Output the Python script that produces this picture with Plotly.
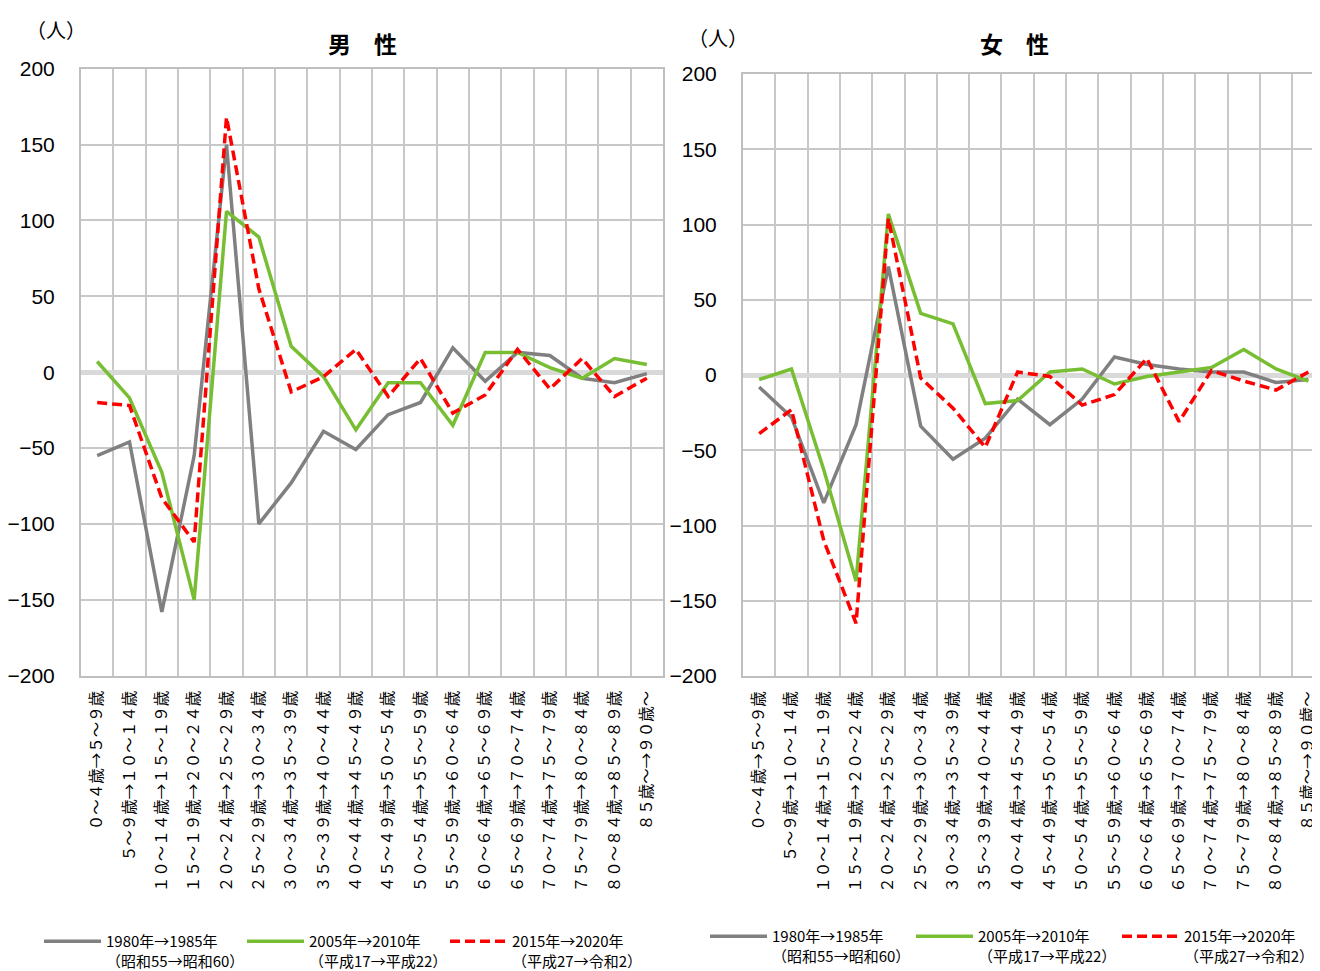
import plotly.graph_objects as go

# ---- data ----
categories = [
    "０～４歳→５～９歳", "５～９歳→１０～１４歳", "１０～１４歳→１５～１９歳",
    "１５～１９歳→２０～２４歳", "２０～２４歳→２５～２９歳", "２５～２９歳→３０～３４歳",
    "３０～３４歳→３５～３９歳", "３５～３９歳→４０～４４歳", "４０～４４歳→４５～４９歳",
    "４５～４９歳→５０～５４歳", "５０～５４歳→５５～５９歳", "５５～５９歳→６０～６４歳",
    "６０～６４歳→６５～６９歳", "６５～６９歳→７０～７４歳", "７０～７４歳→７５～７９歳",
    "７５～７９歳→８０～８４歳", "８０～８４歳→８５～８９歳", "８５歳～→９０歳～",
]
series_names = [
    "1980年→1985年<br>（昭和55→昭和60）",
    "2005年→2010年<br>（平成17→平成22）",
    "2015年→2020年<br>（平成27→令和2）",
]
male_1980 = [-55, -46, -158, -55, 150, -100, -73, -39, -51, -28, -20, 16, -6, 13, 11, -4, -7, -1]
male_2005 = [7, -17, -66, -150, 106, 89, 17, -3, -38, -7, -7, -35, 13, 13, 3, -4, 9, 5]
male_2015 = [-20, -22, -83, -112, 168, 55, -13, -3, 15, -16, 9, -27, -15, 15, -11, 9, -16, -4]
female_1980 = [-8, -28, -85, -33, 72, -34, -56, -42, -16, -33, -16, 12, 7, 4, 2, 2, -5, -3]
female_2005 = [-3, 4, -63, -137, 107, 41, 34, -19, -17, 2, 4, -6, -1, 2, 5, 17, 4, -4]
female_2015 = [-39, -23, -110, -165, 104, -2, -22, -48, 2, -1, -20, -13, 11, -31, 3, -4, -10, 2]
y_ticks = [-200, -150, -100, -50, 0, 50, 100, 150, 200]
titles = ["男　性", "女　性"]
unit_label = "（人）"

# ---- styles / layout helpers ----
W, H = 1320, 971
OFF = 8  # page body margin offset


def px(x):
    return (x - OFF) / W


def py(y):
    return 1 - (y - OFF) / H


colors = ["#808080", "#78BE32", "#FF0000"]
dashes = ["solid", "solid", "10px,5px"]
CJK = "Noto Sans CJK JP"

fig = go.Figure()
male = [male_1980, male_2005, male_2015]
female = [female_1980, female_2005, female_2015]
for i in range(3):
    fig.add_trace(go.Scatter(
        x=categories, y=male[i], name=series_names[i], mode="lines",
        line=dict(color=colors[i], width=3.5, dash=dashes[i]),
        xaxis="x", yaxis="y", legend="legend"))
for i in range(3):
    fig.add_trace(go.Scatter(
        x=categories, y=female[i], name=series_names[i], mode="lines",
        line=dict(color=colors[i], width=3.5, dash=dashes[i]),
        xaxis="x2", yaxis="y2", legend="legend2"))

xcommon = dict(
    type="category", tickson="boundaries", showgrid=True,
    gridcolor="#C8C8C8", gridwidth=2, tickangle=-90,
    tickfont=dict(family=CJK, size=15.5, color="black"),
    showline=True, mirror=True, linecolor="#BFBFBF", linewidth=2,
    ticks="", ticklabelstandoff=7, fixedrange=True, range=[-0.5, 17.5],
)
ycommon = dict(
    range=[-200, 200], tickvals=y_ticks, showgrid=True,
    gridcolor="#C8C8C8", gridwidth=2,
    zeroline=True, zerolinecolor="#D9D9D9", zerolinewidth=5,
    showline=True, mirror=True, linecolor="#BFBFBF", linewidth=2,
    tickfont=dict(family="Liberation Sans", size=21, color="black"),
    ticks="", ticklabelstandoff=20, fixedrange=True,
)
legcommon = dict(
    orientation="h", xanchor="left", yanchor="top",
    font=dict(family=CJK, size=15, color="black"), itemwidth=57,
    entrywidthmode="pixels", valign="top",
    bgcolor="rgba(0,0,0,0)", tracegroupgap=0,
)

fig.update_layout(
    width=W, height=H,
    margin=dict(l=0, r=0, t=0, b=0, autoexpand=False),
    paper_bgcolor="white", plot_bgcolor="white",
    xaxis=dict(domain=[px(81), px(663)], anchor="y", **xcommon),
    yaxis=dict(domain=[py(675.6), py(68.7)], anchor="x", **ycommon),
    xaxis2=dict(domain=[px(743), px(1324.5)], anchor="y2", **xcommon),
    yaxis2=dict(domain=[py(676), py(74)], anchor="x2", **ycommon),
    legend=dict(x=px(39), y=py(925), entrywidth=131, **legcommon),
    legend2=dict(x=px(705), y=py(920), entrywidth=134, **legcommon),
    annotations=[
        dict(text=f"<b>{titles[0]}</b>", x=px(362), y=py(42.5), xref="paper", yref="paper",
             showarrow=False, font=dict(family=CJK, size=23, color="black"),
             xanchor="center", yanchor="middle"),
        dict(text=f"<b>{titles[1]}</b>", x=px(1014), y=py(42.5), xref="paper", yref="paper",
             showarrow=False, font=dict(family=CJK, size=23, color="black"),
             xanchor="center", yanchor="middle"),
        dict(text=unit_label, x=px(56), y=py(29), xref="paper", yref="paper",
             showarrow=False, font=dict(family=CJK, size=20, color="black"),
             xanchor="center", yanchor="middle"),
        dict(text=unit_label, x=px(718), y=py(37), xref="paper", yref="paper",
             showarrow=False, font=dict(family=CJK, size=20, color="black"),
             xanchor="center", yanchor="middle"),
    ],
)

fig.write_html("out.html")
